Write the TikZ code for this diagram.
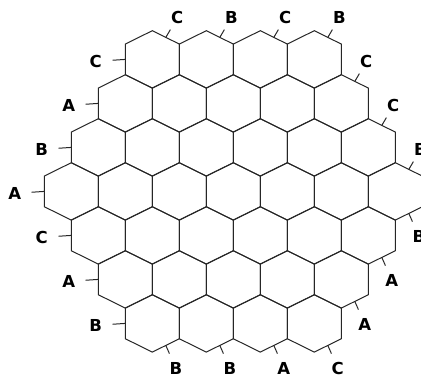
\documentclass[tikz,border=0pt]{standalone}
\usepackage{fontspec}
\setmainfont{DejaVu Sans}
\usetikzlibrary{calc}

\begin{document}
\begin{tikzpicture}[
  x=1pt, y=-1pt,
  cell/.style={draw=black!85, line width=1pt},
  tick/.style={draw=black!85, line width=1pt},
  lbl/.style={font=\fontsize{16.5}{16.5}\selectfont\bfseries, inner sep=0pt}
]
\useasboundingbox (0,0) rectangle (421,380);
\clip (0,0) rectangle (421,380);

% board: rows of 4,5,6,7,6,5,4 cells
\foreach \r/\n/\x in {0/4/152.3, 1/5/125.3, 2/6/98.3, 3/7/71.3, 4/6/98.3, 5/5/125.3, 6/4/152.3}
  \foreach \c in {1,...,\n} {
    \coordinate (h\r-\c) at ({\x+54*(\c-1)}, {59.4+44*\r});
    \draw[cell] (h\r-\c) +(0,-28.7) -- +(27,-15.35) -- +(27,15.35) -- +(0,28.7)
      -- +(-27,15.35) -- +(-27,-15.35) -- cycle;
  }

% left side
\foreach \r/\t in {0/C, 1/A, 2/B, 3/A, 4/C, 5/A, 6/B} {
  \node[lbl] (left\r) at ($(h\r-1)+(-56.6,2)$) {\t};
  \coordinate (lm\r) at ($(h\r-1)+(-27,0)$);
  \draw[tick] (lm\r) -- ($(lm\r)!12.7pt!(left\r)$);
}

% top and upper right
\foreach \h/\t [count=\i] in {h0-1/C, h0-2/B, h0-3/C, h0-4/B, h1-5/C, h2-6/C, h3-7/B} {
  \node[lbl] (top\i) at ($(\h)+(25,-41.5)$) {\t};
  \coordinate (tm\i) at ($(\h)+(13.5,-22)$);
  \draw[tick] (tm\i) -- ($(tm\i)!9pt!(top\i)$);
}

% lower right and bottom
\foreach \h/\t [count=\i] in {h3-7/B, h4-6/A, h5-5/A, h6-4/C, h6-3/A, h6-2/B, h6-1/B} {
  \node[lbl] (bot\i) at ($(\h)+(23.5,44.6)$) {\t};
  \coordinate (bm\i) at ($(\h)+(13.5,22)$);
  \draw[tick] (bm\i) -- ($(bm\i)!9pt!(bot\i)$);
}
\end{tikzpicture}
\end{document}
